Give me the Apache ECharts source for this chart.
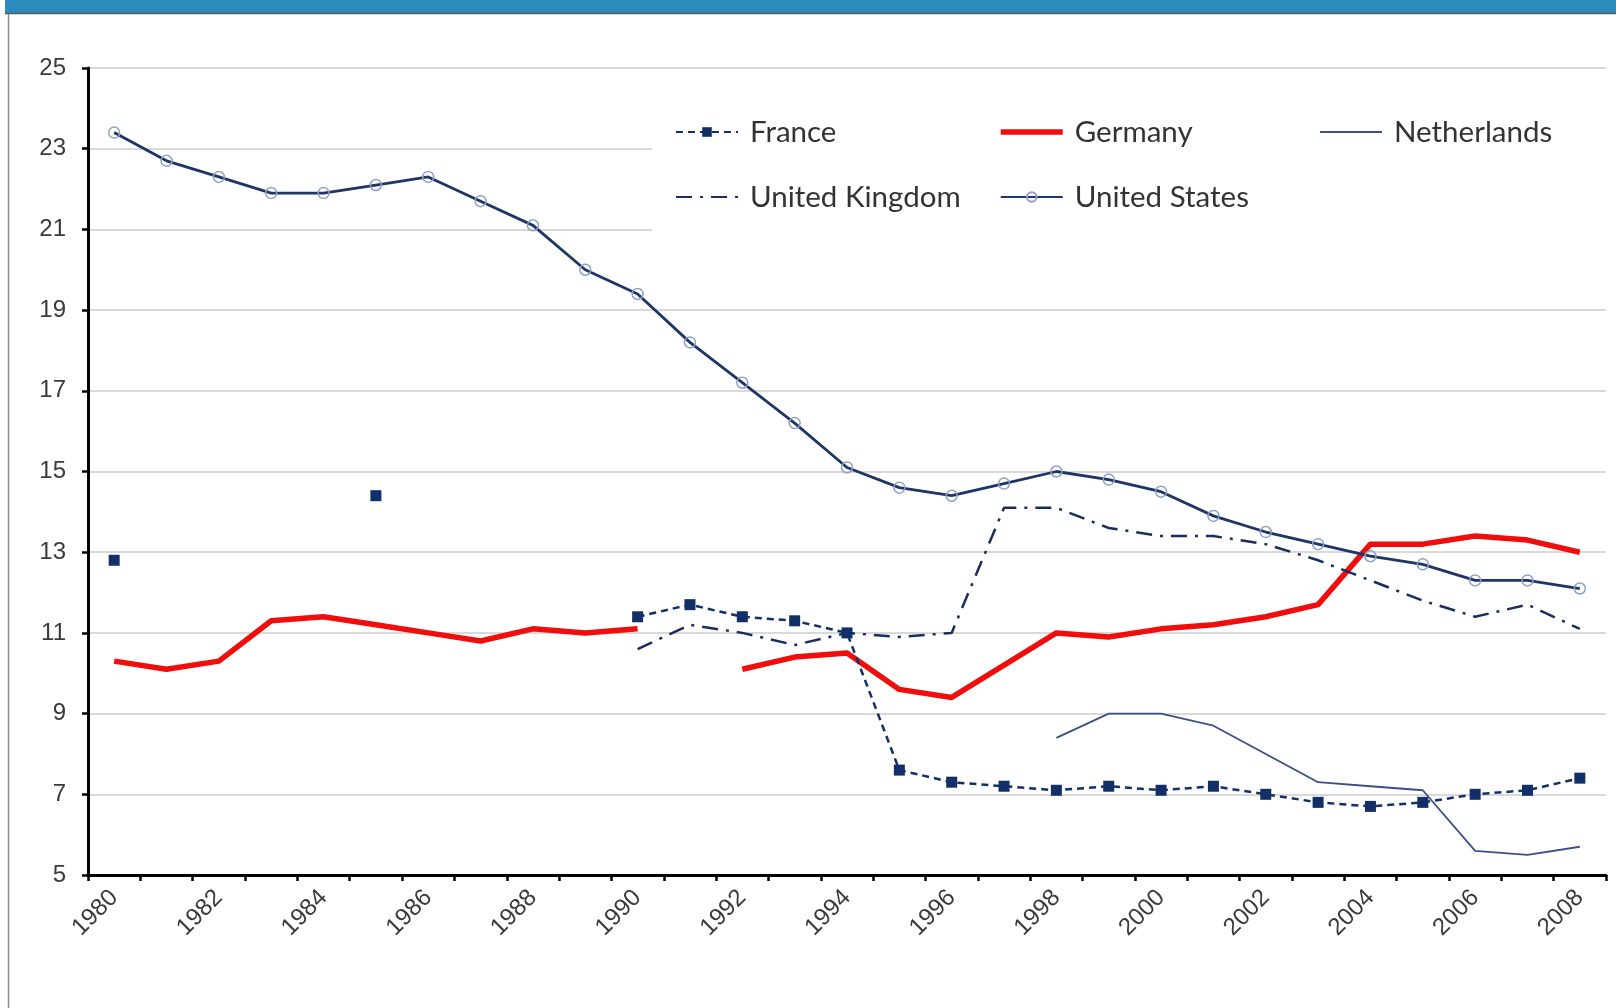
<!DOCTYPE html>
<html>
<head>
<meta charset="utf-8">
<title>Line chart 1980-2008</title>
<script src="https://cdn.jsdelivr.net/npm/echarts@6/dist/echarts.min.js"></script>
<style>
  html, body { margin: 0; padding: 0; background: #ffffff; }
  #chart { width: 1616px; height: 1008px; }
</style>
</head>
<body>
<div id="chart"></div>
<script>
// Years on the category axis
const years = [
  '1980','1981','1982','1983','1984','1985','1986','1987','1988','1989',
  '1990','1991','1992','1993','1994','1995','1996','1997','1998','1999',
  '2000','2001','2002','2003','2004','2005','2006','2007','2008'
];

// Series values (null = no observation)
const france = [
  12.8, null, null, null, null, 14.4, null, null, null, null,
  11.4, 11.7, 11.4, 11.3, 11.0, 7.6, 7.3, 7.2, 7.1, 7.2,
  7.1, 7.2, 7.0, 6.8, 6.7, 6.8, 7.0, 7.1, 7.4
];
const germany = [
  10.3, 10.1, 10.3, 11.3, 11.4, 11.2, 11.0, 10.8, 11.1, 11.0,
  11.1, null, 10.1, 10.4, 10.5, 9.6, 9.4, 10.2, 11.0, 10.9,
  11.1, 11.2, 11.4, 11.7, 13.2, 13.2, 13.4, 13.3, 13.0
];
const netherlands = [
  null, null, null, null, null, null, null, null, null, null,
  null, null, null, null, null, null, null, null, 8.4, 9.0,
  9.0, 8.7, 8.0, 7.3, 7.2, 7.1, 5.6, 5.5, 5.7
];
const unitedKingdom = [
  null, null, null, null, null, null, null, null, null, null,
  10.6, 11.2, 11.0, 10.7, 11.0, 10.9, 11.0, 14.1, 14.1, 13.6,
  13.4, 13.4, 13.2, 12.8, 12.3, 11.8, 11.4, 11.7, 11.1
];
const unitedStates = [
  23.4, 22.7, 22.3, 21.9, 21.9, 22.1, 22.3, 21.7, 21.1, 20.0,
  19.4, 18.2, 17.2, 16.2, 15.1, 14.6, 14.4, 14.7, 15.0, 14.8,
  14.5, 13.9, 13.5, 13.2, 12.9, 12.7, 12.3, 12.3, 12.1
];

// Value axis range
const yMin = 5;
const yMax = 25;
const yStep = 2;

const navy = '#122f68';
const red = '#f20d0d';
const axisFont = 'Liberation Sans, Arial, sans-serif';
const legendFont = 'Lato, "Open Sans", sans-serif';

const chart = echarts.init(document.getElementById('chart'), null, { renderer: 'canvas' });

const legendText = {
  color: '#333333', fontSize: 29.5, fontFamily: legendFont, lineHeight: 30,
  padding: [0, 0, 0, 7]
};
const legendBase = {
  orient: 'vertical',
  top: 117,
  itemWidth: 62,
  itemHeight: 12,
  itemGap: 35,
  selectedMode: false,
  textStyle: legendText,
  padding: 0
};
// legend entries for plain lines carry no marker
const noMarker = { opacity: 0 };

chart.setOption({
  animation: false,
  backgroundColor: '#ffffff',
  grid: { left: 88, right: 10, top: 68, bottom: 133, containLabel: false },
  legend: [
    Object.assign({}, legendBase, {
      left: 675,
      data: ['France', { name: 'United Kingdom', itemStyle: noMarker }]
    }),
    Object.assign({}, legendBase, {
      left: 998,
      data: [
        { name: 'Germany', itemStyle: noMarker, lineStyle: { width: 5.5 } },
        'United States'
      ]
    }),
    Object.assign({}, legendBase, {
      left: 1319,
      data: [{ name: 'Netherlands', itemStyle: noMarker }]
    })
  ],
  graphic: [
    // header band
    { type: 'rect', shape: { x: 5, y: 0, width: 1611, height: 13 }, style: { fill: '#2b8bbd' }, z: 1 },
    { type: 'line', shape: { x1: 5, y1: 13.5, x2: 1616, y2: 13.5 }, style: { stroke: '#5a5a5a', lineWidth: 1.5 }, z: 1 },
    // frame on the left
    { type: 'line', shape: { x1: 8.5, y1: 14, x2: 8.5, y2: 1008 }, style: { stroke: '#8a8a8a', lineWidth: 1.5 }, z: 1 },
    // white panel behind the legend
    { type: 'rect', shape: { x: 652, y: 78, width: 956, height: 170 }, style: { fill: '#ffffff' }, z: 1 }
  ],
  xAxis: {
    type: 'category',
    data: years,
    boundaryGap: true,
    axisLine: { lineStyle: { color: '#000000', width: 3 } },
    axisTick: { show: true, interval: 0, length: 6, lineStyle: { color: '#000000', width: 2.5 } },
    axisLabel: {
      interval: 1,
      rotate: 45,
      margin: 19,
      fontSize: 24,
      fontFamily: axisFont,
      color: '#3a3a3a'
    },
    splitLine: { show: false }
  },
  yAxis: {
    type: 'value',
    min: yMin,
    max: yMax,
    interval: yStep,
    axisLine: { show: true, lineStyle: { color: '#000000', width: 3 } },
    axisTick: { show: true, length: 6, lineStyle: { color: '#000000', width: 2.5 } },
    axisLabel: { margin: 22, fontSize: 24, fontFamily: axisFont, color: '#3a3a3a' },
    splitLine: { show: true, lineStyle: { color: '#d9d9d9', width: 1.8 } }
  },
  series: [
    {
      name: 'France',
      type: 'line',
      data: france,
      connectNulls: false,
      showAllSymbol: true,
      symbol: 'rect',
      symbolSize: 11,
      itemStyle: { color: navy },
      lineStyle: { color: navy, width: 2.5, type: [7, 5] },
      z: 3
    },
    {
      name: 'Germany',
      type: 'line',
      data: germany,
      connectNulls: false,
      symbol: 'none',
      itemStyle: { color: red },
      lineStyle: { color: red, width: 5.5, join: 'round' },
      z: 2
    },
    {
      name: 'Netherlands',
      type: 'line',
      data: netherlands,
      connectNulls: false,
      symbol: 'none',
      itemStyle: { color: '#3c4f86' },
      lineStyle: { color: '#3c4f86', width: 1.8 },
      z: 2
    },
    {
      name: 'United Kingdom',
      type: 'line',
      data: unitedKingdom,
      connectNulls: false,
      symbol: 'none',
      itemStyle: { color: '#1a2d5c' },
      lineStyle: { color: '#1a2d5c', width: 2.5, type: [16, 8, 3, 8] },
      z: 2
    },
    {
      name: 'United States',
      type: 'line',
      data: unitedStates,
      connectNulls: false,
      showAllSymbol: true,
      symbol: 'circle',
      symbolSize: 11,
      itemStyle: { color: 'rgba(255,255,255,0)', borderColor: '#8ea0c8', borderWidth: 1.5 },
      lineStyle: { color: '#1f3566', width: 2.8 },
      z: 3
    }
  ]
});
</script>
</body>
</html>
